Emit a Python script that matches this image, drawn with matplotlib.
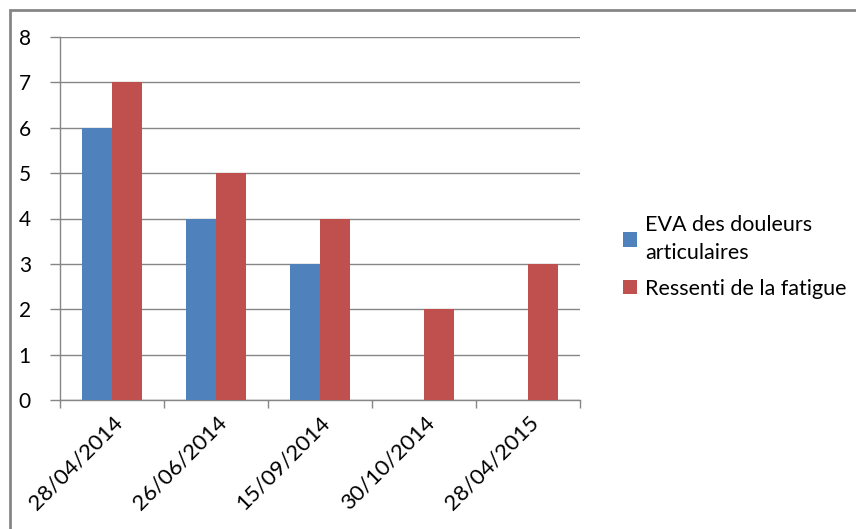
import numpy as np
import matplotlib.pyplot as plt
from matplotlib.patches import Rectangle

plt.rcParams['font.family'] = ['Lato', 'DejaVu Sans']

# donnees du suivi
dates = ["28/04/2014", "26/06/2014", "15/09/2014", "30/10/2014", "28/04/2015"]
eva_douleurs = [6, 4, 3, 0, 0]
fatigue = [7, 5, 4, 2, 3]
labels = ["EVA des douleurs\narticulaires", "Ressenti de la fatigue"]

c_bleu = "#4F81BD"
c_rouge = "#C0504D"
c_gris = "#868686"

fig = plt.figure(figsize=(8.56, 5.29), dpi=100)
ax = fig.add_axes([60/856, 1 - 400/529, 520/856, 363/529])

x = np.arange(len(dates))
w = 1 / 3.5
ax.bar(x - w/2, eva_douleurs, w, color=c_bleu, label=labels[0], zorder=3)
ax.bar(x + w/2, fatigue, w, color=c_rouge, label=labels[1], zorder=3)

ax.set_xlim(-0.5, len(dates) - 0.5)
ax.set_ylim(0, 8)
ax.set_yticks(range(0, 9))
ax.yaxis.grid(True, color=c_gris, linewidth=1)
ax.set_axisbelow(True)

# graduations entre les categories
ax.set_xticks(np.arange(-0.5, len(dates)), minor=False)
ax.set_xticklabels([])
ax.set_xticks(x, minor=True)
ax.set_xticklabels(dates, minor=True, rotation=45, ha="right",
                   rotation_mode="anchor", fontsize=16)
ax.tick_params(axis="x", which="major", length=6, color=c_gris, width=1)
ax.tick_params(axis="x", which="minor", length=0, pad=9)
ax.tick_params(axis="y", length=7, color=c_gris, width=1, labelsize=15, pad=14)

for s in ["top", "right"]:
    ax.spines[s].set_visible(False)
for s in ["left", "bottom"]:
    ax.spines[s].set_color(c_gris)
    ax.spines[s].set_linewidth(1)

leg = fig.legend(loc="upper left", bbox_to_anchor=(604/856, 1 - 196/529),
                 frameon=False, fontsize=15.5, handlelength=0.65, handleheight=0.65,
                 handletextpad=0.35, labelspacing=0.75)
for t in leg.get_texts():
    t.set_linespacing(1.45)

# cadre du graphique
fig.add_artist(Rectangle((10/856, -0.1), 1.2, 1.1 - 10/529,
                         transform=fig.transFigure, fill=False,
                         edgecolor=c_gris, linewidth=2))

fig.savefig("out.png", dpi=100)
